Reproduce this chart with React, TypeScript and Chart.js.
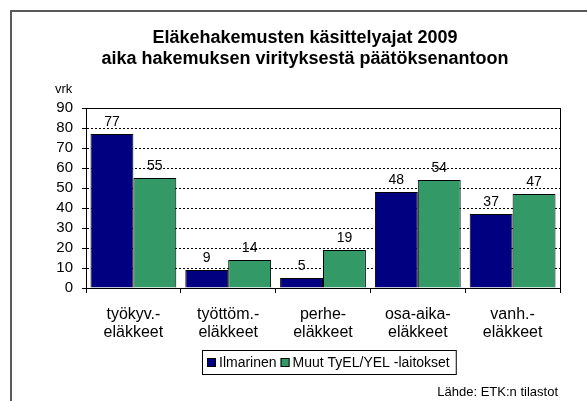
import React, { useEffect, useRef } from "react";
import { Chart, registerables } from "chart.js";

Chart.register(...registerables);

// ---- data ----
const categories: string[][] = [
  ["työkyv.-", "eläkkeet"],
  ["työttöm.-", "eläkkeet"],
  ["perhe-", "eläkkeet"],
  ["osa-aika-", "eläkkeet"],
  ["vanh.-", "eläkkeet"],
];
const seriesNames = ["Ilmarinen", "Muut TyEL/YEL -laitokset"];
const ilmarinen = [77, 9, 5, 48, 37];
const muut = [55, 14, 19, 54, 47];
const yMin = 0;
const yMax = 90;
const yStep = 10;
const titleLines = [
  "Eläkehakemusten käsittelyajat 2009",
  "aika hakemuksen virityksestä päätöksenantoon",
];
const yUnit = "vrk";
const sourceText = "Lähde: ETK:n tilastot";
const seriesColors = ["#000080", "#339966"];

const FONT = '"Liberation Sans", Arial, Helvetica, sans-serif';

const decorPlugin = {
  id: "decor",
  beforeDraw(chart: any) {
    const ctx = chart.ctx;
    ctx.save();
    ctx.fillStyle = "#ffffff";
    ctx.fillRect(0, 0, chart.width, chart.height);
    ctx.restore();
  },
  afterDatasetsDraw(chart: any) {
    const ctx = chart.ctx;
    ctx.save();
    ctx.font = `14px ${FONT}`;
    ctx.fillStyle = "#000";
    ctx.textAlign = "center";
    ctx.textBaseline = "alphabetic";
    chart.data.datasets.forEach((ds: any, i: number) => {
      const meta = chart.getDatasetMeta(i);
      meta.data.forEach((bar: any, j: number) => {
        ctx.fillText(String(ds.data[j]), bar.x, bar.y - 8);
      });
    });
    ctx.restore();
  },
  afterDraw(chart: any) {
    const ctx = chart.ctx;
    const ca = chart.chartArea;
    ctx.save();
    // plot border (top & right)
    ctx.strokeStyle = "#000";
    ctx.lineWidth = 1;
    ctx.setLineDash([]);
    ctx.beginPath();
    ctx.moveTo(Math.round(ca.left), Math.round(ca.top) + 0.5);
    ctx.lineTo(Math.round(ca.right) + 1, Math.round(ca.top) + 0.5);
    ctx.moveTo(Math.round(ca.right) + 0.5, Math.round(ca.top));
    ctx.lineTo(Math.round(ca.right) + 0.5, Math.round(ca.bottom) + 1);
    ctx.stroke();

    // outer frame
    ctx.fillStyle = "#5a5a5a";
    ctx.fillRect(10, 10, chart.width - 10, 2);
    ctx.fillRect(10, 10, 2, chart.height - 10);

    // title
    ctx.fillStyle = "#000";
    ctx.font = `bold 18px ${FONT}`;
    ctx.textAlign = "center";
    ctx.textBaseline = "alphabetic";
    ctx.fillText(titleLines[0], 305, 43);
    ctx.fillText(titleLines[1], 305, 64);

    // unit
    ctx.font = `13px ${FONT}`;
    ctx.textAlign = "left";
    ctx.fillText(yUnit, 55, 93);

    // legend
    ctx.font = `14px ${FONT}`;
    ctx.textBaseline = "middle";
    const boxLeft = 202;
    const boxTop = 350;
    const boxH = 24;
    const cy = boxTop + boxH / 2;
    let x = boxLeft + 5;
    chart.data.datasets.forEach((ds: any) => {
      ctx.fillStyle = ds.backgroundColor;
      ctx.fillRect(x, cy - 4, 9, 9);
      ctx.strokeStyle = "#000";
      ctx.strokeRect(x + 0.5, cy - 3.5, 8, 8);
      ctx.fillStyle = "#000";
      ctx.fillText(ds.label, x + 12, cy + 1);
      x += 12 + ctx.measureText(ds.label).width + 4;
    });
    const boxRight = x + 2;
    ctx.strokeStyle = "#000";
    ctx.strokeRect(boxLeft + 0.5, boxTop + 0.5, boxRight - boxLeft, boxH);

    // source
    ctx.font = `13px ${FONT}`;
    ctx.textAlign = "right";
    ctx.textBaseline = "alphabetic";
    ctx.fillText(sourceText, 558, 396);
    ctx.restore();
  },
};

export default function App() {
  const ref = useRef<HTMLCanvasElement | null>(null);

  useEffect(() => {
    if (!ref.current) return;
    Chart.defaults.font.family = FONT;
    Chart.defaults.color = "#000";
    const chart = new Chart(ref.current, {
      type: "bar",
      data: {
        labels: categories,
        datasets: [
          {
            label: seriesNames[0],
            data: ilmarinen,
            backgroundColor: seriesColors[0],
            borderColor: "#000",
            borderWidth: 1,
            categoryPercentage: 0.905,
            barPercentage: 1.0,
          },
          {
            label: seriesNames[1],
            data: muut,
            backgroundColor: seriesColors[1],
            borderColor: "#000",
            borderWidth: 1,
            categoryPercentage: 0.905,
            barPercentage: 1.0,
          },
        ],
      },
      options: {
        responsive: false,
        animation: false,
        devicePixelRatio: 1,
        layout: { padding: { top: 108, right: 27, bottom: 53, left: 0 } },
        plugins: {
          legend: { display: false },
          title: { display: false },
          tooltip: { enabled: false },
        },
        scales: {
          x: {
            afterFit: (s: any) => {
              s.height = 60;
            },
            grid: {
              display: true,
              drawOnChartArea: false,
              drawTicks: true,
              tickLength: 5,
              tickColor: "#000",
              offset: true,
            },
            border: { display: true, color: "#000", width: 1 },
            ticks: {
              font: { size: 16, family: FONT, lineHeight: 1.15 },
              color: "#000",
              padding: 12,
              maxRotation: 0,
              autoSkip: false,
            },
          },
          y: {
            min: yMin,
            max: yMax,
            afterFit: (s: any) => {
              s.width = 86;
            },
            grid: {
              color: "#000",
              lineWidth: 1,
              drawTicks: true,
              tickLength: 4,
              tickColor: "#000",
            },
            border: { display: true, color: "#000", width: 1, dash: [2, 2] },
            ticks: {
              stepSize: yStep,
              autoSkip: false,
              font: { size: 15, family: FONT, lineHeight: 1 },
              color: "#000",
              padding: 9,
            },
          },
        },
      },
      plugins: [decorPlugin],
    });
    return () => chart.destroy();
  }, []);

  return (
    <div style={{ position: "absolute", left: 0, top: 0, width: 587, height: 401 }}>
      <canvas ref={ref} width={587} height={401} style={{ display: "block", width: 587, height: 401 }} />
    </div>
  );
}
